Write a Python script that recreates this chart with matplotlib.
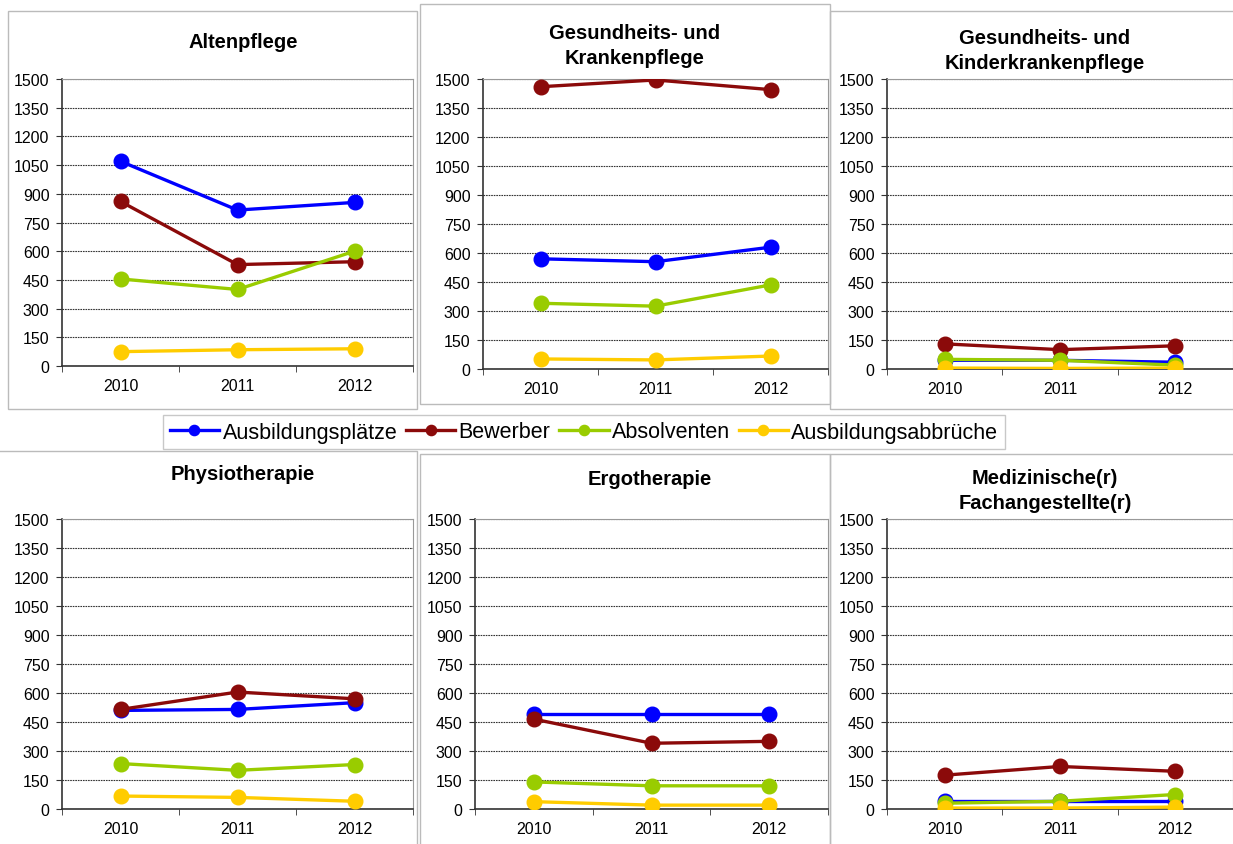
import matplotlib.pyplot as plt
from matplotlib.patches import Rectangle

plt.rcParams['font.family'] = ['Liberation Sans', 'DejaVu Sans']

years = ["2010", "2011", "2012"]
series = ["Ausbildungsplätze", "Bewerber", "Absolventen", "Ausbildungsabbrüche"]
colors = ["#0000ff", "#8b0a0a", "#99cc00", "#ffcc00"]

titles = ["Altenpflege",
          "Gesundheits- und\nKrankenpflege",
          "Gesundheits- und\nKinderkrankenpflege",
          "Physiotherapie",
          "Ergotherapie",
          "Medizinische(r)\nFachangestellte(r)"]

# values per panel: Ausbildungsplätze, Bewerber, Absolventen, Ausbildungsabbrüche
altenpflege = [[1070, 815, 855], [860, 530, 545], [455, 400, 600], [75, 85, 90]]
krankenpflege = [[570, 555, 630], [1460, 1495, 1445], [340, 325, 435], [52, 47, 67]]
kinderkrankenpflege = [[45, 45, 35], [130, 100, 120], [50, 45, 20], [5, 3, 5]]
physiotherapie = [[510, 515, 550], [515, 605, 570], [235, 200, 230], [67, 60, 40]]
ergotherapie = [[490, 490, 490], [465, 340, 350], [140, 120, 120], [38, 20, 20]]
medizinische = [[40, 40, 40], [175, 220, 195], [30, 40, 75], [5, 5, 10]]
panels = [altenpflege, krankenpflege, kinderkrankenpflege,
          physiotherapie, ergotherapie, medizinische]

W, H = 1233, 845
fig = plt.figure(figsize=(W / 100, H / 100), dpi=100)


def box(l, t, r, b):
    return [l / W, 1 - b / H, (r - l) / W, (b - t) / H]


# chart area frames
frames = [(8, 12, 417, 410), (420, 5, 830, 405), (830, 12, 1240, 410),
          (-5, 452, 417, 850), (420, 455, 830, 850), (830, 455, 1240, 850)]
for f in frames:
    fig.patches.append(Rectangle((f[0] / W, 1 - f[3] / H), (f[2] - f[0]) / W, (f[3] - f[1]) / H,
                                 transform=fig.transFigure, fill=False,
                                 edgecolor="#bbbbbb", lw=1))

axes_px = [(62, 80, 413, 367), (483, 80, 828, 370), (887, 80, 1233, 370),
           (62, 520, 413, 810), (475, 520, 828, 810), (887, 520, 1233, 810)]
title_px = [(243, 42), (635, 46), (1045, 51), (243, 475), (650, 480), (1045, 491)]

handles = []
for i, ax_box in enumerate(axes_px):
    ax = fig.add_axes(box(*ax_box))
    data = panels[i]
    for j, vals in enumerate(data):
        h, = ax.plot(range(3), vals, color=colors[j], lw=2.4, marker="o",
                     markersize=10.5, label=series[j], zorder=3)
        if i == 0:
            handles.append(h)
    ax.set_xlim(-0.5, 2.5)
    ax.set_ylim(0, 1500)
    ax.set_yticks(range(0, 1501, 150))
    ax.set_xticks(range(3))
    ax.set_xticklabels(years)
    ax.set_xticks([-0.5, 0.5, 1.5, 2.5], minor=True)
    ax.tick_params(axis="x", which="major", length=0, pad=9, labelsize=11.5)
    ax.tick_params(axis="x", which="minor", length=4, direction="out", color="#333333")
    ax.tick_params(axis="y", length=4, direction="out", labelsize=11.5, pad=5, color="#333333")
    ax.grid(axis="y", color="#333333", linestyle=(0, (1.5, 0.8)), lw=0.8, zorder=0)
    for s in ["left", "bottom"]:
        ax.spines[s].set_color("#333333")
        ax.spines[s].set_linewidth(1.2)
    for s in ["top", "right"]:
        ax.spines[s].set_color("#999999")
        ax.spines[s].set_linewidth(0.8)
    tx, ty = title_px[i]
    fig.text(tx / W, 1 - ty / H, titles[i], ha="center", va="center",
             fontsize=14.5, fontweight="bold", linespacing=1.4)

leg = fig.legend(handles=handles, loc="center", ncol=4,
                 bbox_to_anchor=(584 / W, 1 - 433 / H), fontsize=15.5,
                 frameon=True, fancybox=False, handlelength=2.3,
                 handletextpad=0.15, columnspacing=0.4, borderpad=0.3,
                 borderaxespad=0, markerscale=0.7)
leg.get_frame().set_edgecolor("#bbbbbb")
leg.get_frame().set_linewidth(1)

fig.savefig("out.png", dpi=100)
